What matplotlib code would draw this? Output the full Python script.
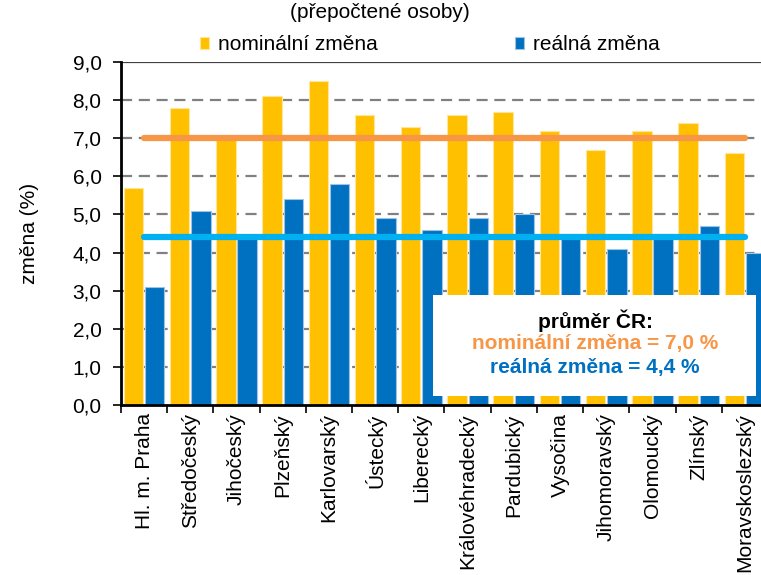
import numpy as np
import matplotlib.pyplot as plt
from matplotlib.ticker import FuncFormatter

plt.rcParams['font.family'] = ['Liberation Sans', 'DejaVu Sans']

kraje = ['Hl. m. Praha', 'Středočeský', 'Jihočeský', 'Plzeňský', 'Karlovarský',
         'Ústecký', 'Liberecký', 'Královéhradecký', 'Pardubický', 'Vysočina',
         'Jihomoravský', 'Olomoucký', 'Zlínský', 'Moravskoslezský']
nominalni = [5.7, 7.8, 7.0, 8.1, 8.5, 7.6, 7.3, 7.6, 7.7, 7.2, 6.7, 7.2, 7.4, 6.6]
realna = [3.1, 5.1, 4.4, 5.4, 5.8, 4.9, 4.6, 4.9, 5.0, 4.5, 4.1, 4.5, 4.7, 4.0]
prumer_nom = 7.0
prumer_real = 4.4

c_nom = '#FFC000'
c_real = '#0070C0'
c_avg_nom = '#F79646'
c_avg_real = '#00B0F0'
fs = 15

fig = plt.figure(figsize=(7.61, 5.75), dpi=100)
# axes runs a bit past the right edge like in the original crop
ax = fig.add_axes([121 / 761, 1 - 405 / 575, 647 / 761, 343 / 575])

x = np.arange(len(kraje))
w = 0.42
b1 = ax.bar(x - w / 2 - 0.02, nominalni, w, color=c_nom, edgecolor='#FFE699',
            linewidth=0.8, label='nominální změna', zorder=2)
b2 = ax.bar(x + w / 2 + 0.02, realna, w, color=c_real, edgecolor='#9DC3E6',
            linewidth=0.8, label='reálná změna', zorder=2)

# average lines over the category centres
ax.plot([x[0], x[-1]], [prumer_nom] * 2, color=c_avg_nom, lw=4.5,
        solid_capstyle='round', zorder=3)
ax.plot([x[0], x[-1]], [prumer_real] * 2, color=c_avg_real, lw=4.5,
        solid_capstyle='round', zorder=3)

ax.set_xlim(-0.5, len(kraje) - 0.5)
ax.set_ylim(0, 9)
ax.set_yticks(np.arange(0, 9.1, 1))
ax.yaxis.set_major_formatter(FuncFormatter(lambda v, p: f'{v:.1f}'.replace('.', ',')))
for yv in range(1, 9):
    ax.axhline(yv, color='#808080', lw=1.6, ls=(0, (5, 3)), zorder=1)
ax.axhline(9, color='#404040', lw=1.6, zorder=1)

ax.set_xticks(x)
ax.set_xticklabels(kraje, rotation=90, fontsize=fs)
ax.tick_params(axis='x', length=0, pad=6)
ax.set_xticks(np.arange(-0.5, len(kraje), 1), minor=True)
ax.tick_params(axis='x', which='minor', length=6, width=1.2, direction='out')
ax.tick_params(axis='y', length=6, width=1.2, labelsize=fs, pad=8)

for s in ['top', 'right']:
    ax.spines[s].set_visible(False)
ax.spines['left'].set_linewidth(2)
ax.spines['bottom'].set_linewidth(2)

ax.set_ylabel('změna (%)', fontsize=fs, labelpad=24)

fig.text(380 / 761, 1 - 12 / 575, '(přepočtené osoby)', ha='center', va='center',
         fontsize=fs)
ax.legend(handles=[b1, b2], loc='center left', bbox_to_anchor=(200 / 761, 1 - 45 / 575),
          bbox_transform=fig.transFigure, ncol=2, frameon=False, fontsize=fs,
          handlelength=0.45, handleheight=0.45, handletextpad=0.4, columnspacing=6.6,
          borderaxespad=0, borderpad=0)

# box with national averages
fig.patches.append(plt.Rectangle((433 / 761, 1 - 396 / 575), 323 / 761, 101 / 575,
                                 transform=fig.transFigure, facecolor='white',
                                 edgecolor='none', zorder=5))
fig.text(595 / 761, 1 - 321 / 575, 'průměr ČR:', ha='center', va='center',
         fontsize=fs, fontweight='bold', color='black', zorder=6)
fig.text(595 / 761, 1 - 344 / 575, 'nominální změna = 7,0 %', ha='center', va='center',
         fontsize=fs, fontweight='bold', color=c_avg_nom, zorder=6)
fig.text(595 / 761, 1 - 368 / 575, 'reálná změna = 4,4 %', ha='center', va='center',
         fontsize=fs, fontweight='bold', color=c_real, zorder=6)

fig.savefig('out.png', dpi=100)
